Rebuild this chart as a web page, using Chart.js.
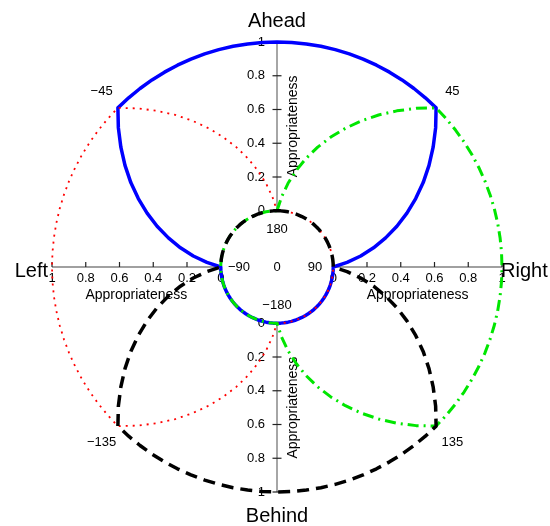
<!DOCTYPE html>
<html>
<head>
<meta charset="utf-8">
<title>Appropriateness by direction</title>
<script src="https://cdn.jsdelivr.net/npm/chart.js@4.4.1/dist/chart.umd.min.js"></script>
<style>
  html, body { margin: 0; padding: 0; background: #fff; }
  canvas { display: block; }
</style>
</head>
<body>
<canvas id="polarChart" width="550" height="526"></canvas>
<script>
// angle of each sample, degrees clockwise from "Ahead" (one row = 45 degrees)
const angles = [
  '0', '3.75', '7.5', '11.25', '15', '18.75', '22.5', '26.25', '30', '33.75', '37.5', '41.25',
  '45', '48.75', '52.5', '56.25', '60', '63.75', '67.5', '71.25', '75', '78.75', '82.5', '86.25',
  '90', '93.75', '97.5', '101.25', '105', '108.75', '112.5', '116.25', '120', '123.75', '127.5', '131.25',
  '135', '138.75', '142.5', '146.25', '150', '153.75', '157.5', '161.25', '165', '168.75', '172.5', '176.25',
  '180', '183.75', '187.5', '191.25', '195', '198.75', '202.5', '206.25', '210', '213.75', '217.5', '221.25',
  '225', '228.75', '232.5', '236.25', '240', '243.75', '247.5', '251.25', '255', '258.75', '262.5', '266.25',
  '270', '273.75', '277.5', '281.25', '285', '288.75', '292.5', '296.25', '300', '303.75', '307.5', '311.25',
  '315', '318.75', '322.5', '326.25', '330', '333.75', '337.5', '341.25', '345', '348.75', '352.5', '356.25'];

// appropriateness per direction
const ahead = [
  1, 1, 1, 1, 1, 1, 1, 1, 1, 1, 1, 1,
  1, 0.917, 0.833, 0.75, 0.667, 0.583, 0.5, 0.417, 0.333, 0.25, 0.167, 0.083,
  0, 0, 0, 0, 0, 0, 0, 0, 0, 0, 0, 0,
  0, 0, 0, 0, 0, 0, 0, 0, 0, 0, 0, 0,
  0, 0, 0, 0, 0, 0, 0, 0, 0, 0, 0, 0,
  0, 0, 0, 0, 0, 0, 0, 0, 0, 0, 0, 0,
  0, 0.083, 0.167, 0.25, 0.333, 0.417, 0.5, 0.583, 0.667, 0.75, 0.833, 0.917,
  1, 1, 1, 1, 1, 1, 1, 1, 1, 1, 1, 1];
const right = [
  0, 0.083, 0.167, 0.25, 0.333, 0.417, 0.5, 0.583, 0.667, 0.75, 0.833, 0.917,
  1, 1, 1, 1, 1, 1, 1, 1, 1, 1, 1, 1,
  1, 1, 1, 1, 1, 1, 1, 1, 1, 1, 1, 1,
  1, 0.917, 0.833, 0.75, 0.667, 0.583, 0.5, 0.417, 0.333, 0.25, 0.167, 0.083,
  0, 0, 0, 0, 0, 0, 0, 0, 0, 0, 0, 0,
  0, 0, 0, 0, 0, 0, 0, 0, 0, 0, 0, 0,
  0, 0, 0, 0, 0, 0, 0, 0, 0, 0, 0, 0,
  0, 0, 0, 0, 0, 0, 0, 0, 0, 0, 0, 0];
const behind = [
  0, 0, 0, 0, 0, 0, 0, 0, 0, 0, 0, 0,
  0, 0, 0, 0, 0, 0, 0, 0, 0, 0, 0, 0,
  0, 0.083, 0.167, 0.25, 0.333, 0.417, 0.5, 0.583, 0.667, 0.75, 0.833, 0.917,
  1, 1, 1, 1, 1, 1, 1, 1, 1, 1, 1, 1,
  1, 1, 1, 1, 1, 1, 1, 1, 1, 1, 1, 1,
  1, 0.917, 0.833, 0.75, 0.667, 0.583, 0.5, 0.417, 0.333, 0.25, 0.167, 0.083,
  0, 0, 0, 0, 0, 0, 0, 0, 0, 0, 0, 0,
  0, 0, 0, 0, 0, 0, 0, 0, 0, 0, 0, 0];
const left = [
  0, 0, 0, 0, 0, 0, 0, 0, 0, 0, 0, 0,
  0, 0, 0, 0, 0, 0, 0, 0, 0, 0, 0, 0,
  0, 0, 0, 0, 0, 0, 0, 0, 0, 0, 0, 0,
  0, 0, 0, 0, 0, 0, 0, 0, 0, 0, 0, 0,
  0, 0.083, 0.167, 0.25, 0.333, 0.417, 0.5, 0.583, 0.667, 0.75, 0.833, 0.917,
  1, 1, 1, 1, 1, 1, 1, 1, 1, 1, 1, 1,
  1, 1, 1, 1, 1, 1, 1, 1, 1, 1, 1, 1,
  1, 0.917, 0.833, 0.75, 0.667, 0.583, 0.5, 0.417, 0.333, 0.25, 0.167, 0.083];

// axis ticks
const tickValues = [0, 0.2, 0.4, 0.6, 0.8, 1];
const tickLabels = ['0', '0.2', '0.4', '0.6', '0.8', '1'];

// labels round the plot
const axisAngles = ['0', '90', '180', '270'];
const directionNames = ['Ahead', 'Right', 'Behind', 'Left'];
const cornerLabels = ['\u221245', '45', '\u2212135', '135'];
const cornerAngles = ['315', '45', '225', '135'];
const innerLabels = ['180', '90', '\u2212180', '\u221290'];

const FONT = "'Liberation Sans', Arial, sans-serif";

const overlay = {
  id: 'overlay',
  beforeDatasetsDraw(chart) {
    const ctx = chart.ctx;
    const s = chart.scales.r;
    const d = v => s.getDistanceFromCenterForValue(v);
    ctx.save();
    // four axes, from the inner circle outwards
    axisAngles.forEach(ang => {
      const idx = angles.indexOf(ang);
      const vertical = ang === '0' || ang === '180';
      const a = s.getPointPosition(idx, d(0));
      const b = s.getPointPosition(idx, d(1));
      ctx.strokeStyle = '#808080';
      ctx.lineWidth = 1.4;
      ctx.beginPath();
      ctx.moveTo(a.x, a.y);
      ctx.lineTo(b.x, b.y);
      ctx.stroke();

      ctx.font = '13px ' + FONT;
      ctx.fillStyle = '#000';
      tickValues.forEach((v, i) => {
        const p = s.getPointPosition(idx, d(v));
        ctx.strokeStyle = '#222';
        ctx.lineWidth = 1.2;
        ctx.beginPath();
        if (vertical) {
          ctx.moveTo(p.x - 4.5, p.y);
          ctx.lineTo(p.x + 4.5, p.y);
        } else {
          ctx.moveTo(p.x, p.y - 5);
          ctx.lineTo(p.x, p.y);
        }
        ctx.stroke();
        if (vertical) {
          ctx.textAlign = 'right';
          ctx.textBaseline = 'middle';
          ctx.fillText(tickLabels[i], p.x - 12, p.y);
        } else {
          ctx.textAlign = 'center';
          ctx.textBaseline = 'top';
          ctx.fillText(tickLabels[i], p.x, p.y + 5);
        }
      });

      // axis title
      const m = s.getPointPosition(idx, d(0.5));
      ctx.font = '14px ' + FONT;
      ctx.textAlign = 'center';
      ctx.textBaseline = 'middle';
      if (vertical) {
        ctx.save();
        ctx.translate(m.x + 16, m.y);
        ctx.rotate(-Math.PI / 2);
        ctx.fillText('Appropriateness', 0, 0);
        ctx.restore();
      } else {
        ctx.fillText('Appropriateness', m.x, m.y + 28);
      }
    });
    ctx.restore();
  },
  afterDatasetsDraw(chart) {
    const ctx = chart.ctx;
    const s = chart.scales.r;
    const R = s.drawingArea;
    ctx.save();
    ctx.fillStyle = '#000';

    // angle labels at the corners and inside the hub
    ctx.font = '13px ' + FONT;
    ctx.textAlign = 'center';
    ctx.textBaseline = 'middle';
    cornerLabels.forEach((t, i) => {
      const p = s.getPointPosition(angles.indexOf(cornerAngles[i]), R + 23);
      ctx.fillText(t, p.x, p.y);
    });
    innerLabels.forEach((t, i) => {
      const p = s.getPointPosition(angles.indexOf(axisAngles[i]), 38);
      ctx.fillText(t, p.x, p.y);
    });
    ctx.fillText('0', s.xCenter, s.yCenter);

    // direction names
    ctx.font = '20px ' + FONT;
    ctx.textBaseline = 'alphabetic';
    const pos = axisAngles.map(ang => s.getPointPosition(angles.indexOf(ang), R));
    ctx.textAlign = 'center';
    ctx.fillText(directionNames[0], pos[0].x, pos[0].y - 15);
    ctx.fillText(directionNames[2], pos[2].x, pos[2].y + 30);
    ctx.textAlign = 'left';
    ctx.fillText(directionNames[1], pos[1].x - 1, pos[1].y + 10);
    ctx.textAlign = 'right';
    ctx.fillText(directionNames[3], pos[3].x - 4, pos[3].y + 10);
    ctx.restore();
  }
};

const ctx = document.getElementById('polarChart').getContext('2d');
new Chart(ctx, {
  type: 'radar',
  data: {
    labels: angles,
    datasets: [
      {
        label: 'Behind',
        data: behind,
        borderColor: '#000000',
        borderWidth: 3.5,
        borderDash: [12, 7]
      },
      {
        label: 'Right',
        data: right,
        borderColor: '#00e600',
        borderWidth: 3,
        borderDash: [11, 5, 2, 5]
      },
      {
        label: 'Left',
        data: left,
        borderColor: '#ff0000',
        borderWidth: 1.8,
        borderDash: [2, 5]
      },
      {
        label: 'Ahead',
        data: ahead,
        borderColor: '#0000ff',
        borderWidth: 3.5
      }
    ]
  },
  options: {
    responsive: false,
    animation: false,
    layout: { padding: { left: 52, right: 48, top: 42, bottom: 34 } },
    elements: {
      line: { tension: 0, fill: false, borderJoinStyle: 'round' },
      point: { radius: 0, hitRadius: 0, hoverRadius: 0 }
    },
    scales: {
      r: {
        min: -1 / 3,
        max: 1,
        grid: { display: false },
        angleLines: { display: false },
        ticks: { display: false },
        pointLabels: { display: false }
      }
    },
    plugins: {
      legend: { display: false },
      tooltip: { enabled: false }
    }
  },
  plugins: [overlay]
});
</script>
</body>
</html>
